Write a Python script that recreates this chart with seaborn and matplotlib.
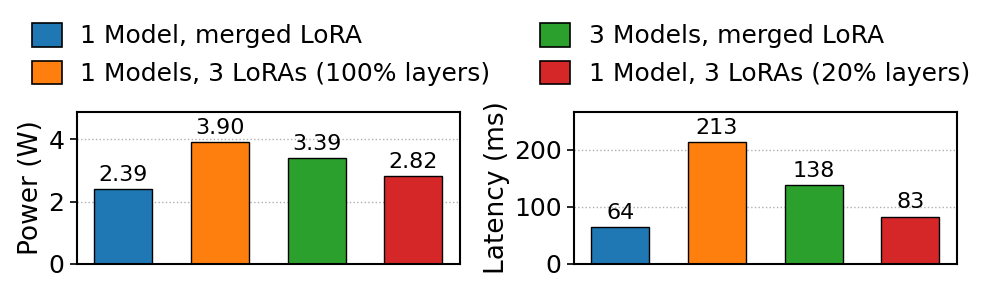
import matplotlib
matplotlib.use("Agg")
import matplotlib.pyplot as plt
import seaborn as sns
import pandas as pd
from matplotlib.patches import Patch

categories = ["1 Model, merged LoRA", "1 Models, 3 LoRAs (100% layers)",
              "3 Models, merged LoRA", "1 Model, 3 LoRAs (20% layers)"]
power = [2.39, 3.90, 3.39, 2.82]
latency = [64, 213, 138, 83]
colors = ["#1f77b4", "#ff7f0e", "#2ca02c", "#d62728"]

plt.rcParams['font.family'] = ['DejaVu Sans']
FS = 18

fig = plt.figure(figsize=(9.97, 2.93), dpi=100)
ax1 = fig.add_axes([0.0772, 0.099, 0.384, 0.519])
ax2 = fig.add_axes([0.5757, 0.099, 0.384, 0.519])

df = pd.DataFrame({"cat": categories, "power": power, "latency": latency})

for ax, col, lab, fmt in [(ax1, "power", "Power (W)", "%.2f"), (ax2, "latency", "Latency (ms)", "%d")]:
    sns.barplot(data=df, x="cat", y=col, hue="cat", palette=colors, order=categories,
                hue_order=categories, dodge=False, width=0.6, edgecolor="black",
                linewidth=1.0, legend=False, ax=ax, saturation=1)
    for c in ax.containers:
        ax.bar_label(c, fmt=fmt, padding=3, fontsize=16, color="black")
    ax.set_xlim(-0.48, 3.48)
    ax.set_ylim(0, max(df[col]) * 1.25)
    ax.set_xticks([])
    ax.set_xlabel("")
    ax.set_ylabel(lab, fontsize=19, color="black", labelpad=3)
    ax.tick_params(axis='y', labelsize=FS, length=5, width=1.2, pad=4, colors="black")
    ax.yaxis.grid(True, linestyle=":", color="#b0b0b0", linewidth=1)
    ax.set_axisbelow(True)
    for s in ax.spines.values():
        s.set_linewidth(1.5)
        s.set_color("black")

ax1.set_yticks([0, 2, 4])
ax2.set_yticks([0, 100, 200])

handles = [Patch(facecolor=c, edgecolor="black", linewidth=1.2) for c in colors]
fig.legend(handles, categories, loc="upper center", bbox_to_anchor=(0.5025, 0.956),
           ncol=2, frameon=False, fontsize=FS, handlelength=1.2, handleheight=1.08,
           handletextpad=0.75, columnspacing=2.0, labelspacing=0.5, borderaxespad=0.0)

fig.savefig("out.png", dpi=100)
